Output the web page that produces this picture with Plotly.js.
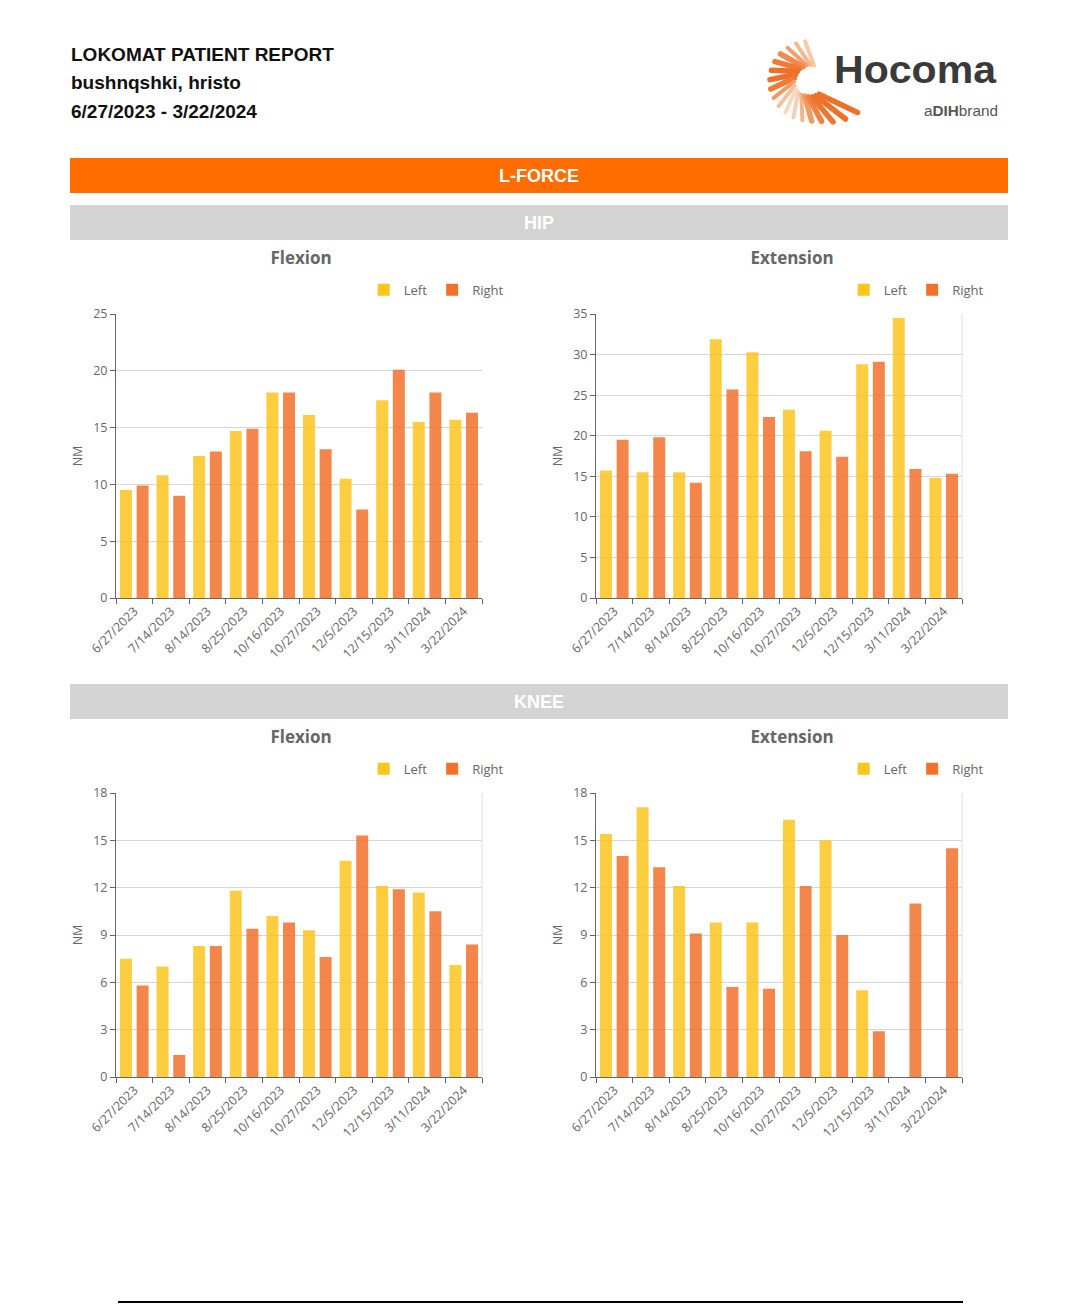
<!DOCTYPE html>
<html><head><meta charset="utf-8">
<script src="https://cdn.plot.ly/plotly-3.0.1.min.js"></script>
<style>
body{margin:0;background:#fff;width:1080px;height:1311px;position:relative;overflow:hidden;font-family:"Liberation Sans",Arial,sans-serif;}
.hdr{position:absolute;left:71px;font-weight:bold;font-size:19px;color:#111;white-space:nowrap;}
.band{position:absolute;left:70px;width:938px;height:35px;line-height:36px;text-align:center;color:#fff;font-weight:bold;font-size:18px;}
.chart{position:absolute;width:460px;height:420px;}
#logo{position:absolute;left:750px;top:35px;}
#foot{position:absolute;left:118px;top:1301px;width:845px;height:2px;background:#000;}
</style></head><body>
<div class="hdr" style="top:44px">LOKOMAT PATIENT REPORT</div>
<div class="hdr" style="top:72px">bushnqshki, hristo</div>
<div class="hdr" style="top:101px">6/27/2023 - 3/22/2024</div>
<svg id="logo" width="260" height="95" viewBox="0 0 260 95">
  <g id="petals"></g>
  <text x="84" y="48" font-family="Liberation Sans, Arial, sans-serif" font-weight="bold" font-size="38" fill="#3a3a3a" textLength="162" lengthAdjust="spacingAndGlyphs">Hocoma</text>
  <text x="174" y="81" font-family="Liberation Sans, Arial, sans-serif" font-size="14" fill="#555" textLength="74" lengthAdjust="spacingAndGlyphs">a<tspan font-weight="bold">DIH</tspan>brand</text>
</svg>
<div class="band" style="top:158px;background:#FF6C00;">L-FORCE</div>
<div class="band" style="top:205px;background:#D4D4D4;">HIP</div>
<div class="band" style="top:684px;background:#D4D4D4;">KNEE</div>
<div id="c1" class="chart" style="left:60px;top:245px"></div>
<div id="c2" class="chart" style="left:540px;top:245px"></div>
<div id="c3" class="chart" style="left:60px;top:724px"></div>
<div id="c4" class="chart" style="left:540px;top:724px"></div>
<div id="foot"></div>
<script>
// ---- data ----
const dates = ["6/27/2023","7/14/2023","8/14/2023","8/25/2023","10/16/2023","10/27/2023","12/5/2023","12/15/2023","3/11/2024","3/22/2024"];
const hipFlexLeft  = [9.5, 10.8, 12.5, 14.7, 18.1, 16.1, 10.5, 17.4, 15.5, 15.7];
const hipFlexRight = [9.9, 9.0, 12.9, 14.9, 18.1, 13.1, 7.8, 20.1, 18.1, 16.3];
const hipExtLeft   = [15.7, 15.5, 15.5, 31.9, 30.3, 23.2, 20.6, 28.8, 34.5, 14.8];
const hipExtRight  = [19.5, 19.8, 14.2, 25.7, 22.3, 18.1, 17.4, 29.1, 15.9, 15.3];
const kneeFlexLeft = [7.5, 7.0, 8.3, 11.8, 10.2, 9.3, 13.7, 12.1, 11.7, 7.1];
const kneeFlexRight= [5.8, 1.4, 8.3, 9.4, 9.8, 7.6, 15.3, 11.9, 10.5, 8.4];
const kneeExtLeft  = [15.4, 17.1, 12.1, 9.8, 9.8, 16.3, 15.0, 5.5, null, null];
const kneeExtRight = [14.0, 13.3, 9.1, 5.7, 5.6, 12.1, 9.0, 2.9, 11.0, 14.5];
const seriesNames = ["Left","Right"];

// ---- logo petals (decoration) ----
(function(){
  const g = document.getElementById('petals');
  const cx=60, cy=46;
  const n = 18;
  const cols=["#f7c9a6","#f5b98c","#f3a06c","#f18a4c","#ef7a36","#ee7029","#ee7029","#ef7a36","#f29a62","#f6c09c","#f9d8c2","#f8cfb4","#f5b48a","#f29a62","#ef8142","#ee7633","#ee7029","#ee7029"];
  for(let i=0;i<n;i++){
    const a = (-75 - i*13.5)*Math.PI/180;
    const tw = -22*Math.PI/180;
    const ri = 16, ro = (i>=14)? 42 + (i-14)*5 : 40;
    const x1 = cx + ri*Math.cos(a), y1 = cy + ri*Math.sin(a);
    const x2 = cx + ro*Math.cos(a+tw), y2 = cy + ro*Math.sin(a+tw);
    const p = document.createElementNS('http://www.w3.org/2000/svg','line');
    p.setAttribute('x1',x1.toFixed(1)); p.setAttribute('y1',y1.toFixed(1));
    p.setAttribute('x2',x2.toFixed(1)); p.setAttribute('y2',y2.toFixed(1));
    p.setAttribute('stroke',cols[i]); p.setAttribute('stroke-width', (i>=3&&i<=7)||(i>=13)? 5.5 : 4);
    p.setAttribute('stroke-linecap','round');
    g.appendChild(p);
  }
})();

// ---- charts ----
const leftColor = "#FDC41E", rightColor = "#F2712B";
const tickFont = {family:"Open Sans, Noto Sans, sans-serif", size:12.5, color:"#666"};

function draw(id, title, titleX, left, right, ymax, dtick, border){
  const traces = [
    {type:'bar', name:seriesNames[0], x:dates, y:left, marker:{color:leftColor, opacity:0.85}},
    {type:'bar', name:seriesNames[1], x:dates, y:right, marker:{color:rightColor, opacity:0.85}}
  ];
  const shapes = border ? [{type:'line', xref:'paper', yref:'paper', x0:1, x1:1, y0:0, y1:1, line:{color:'#dddddd', width:1}}] : [];
  const layout = {
    width:460, height:420,
    margin:{l:56, r:37, t:69, b:67},
    paper_bgcolor:'rgba(0,0,0,0)', plot_bgcolor:'rgba(0,0,0,0)',
    title:{text:title, font:{family:"Open Sans, Noto Sans, sans-serif", size:17, color:'#666', weight:'bold'}, x:titleX, xref:'container', xanchor:'center', y:1-13/420, yref:'container', yanchor:'middle'},
    barmode:'group', bargap:0.09, bargroupgap:0.28,
    showlegend:true,
    legend:{orientation:'h', x:1.07, xanchor:'right', y:1.085, yanchor:'middle', font:{family:"Open Sans, Noto Sans, sans-serif", size:13, color:'#666'}, itemwidth:30, bgcolor:'rgba(0,0,0,0)'},
    xaxis:{type:'category', tickson:'boundaries', ticks:'outside', ticklen:5, tickcolor:'#666', showline:true, linecolor:'#666', linewidth:1, tickangle:-45, tickfont:tickFont, showgrid:false, zeroline:false},
    yaxis:{range:[0,ymax], dtick:dtick, ticks:'outside', ticklen:5, tickcolor:'#666', showline:true, linecolor:'#666', linewidth:1, gridcolor:'#d6d6d6', zeroline:false, tickfont:tickFont,
           title:{text:'NM', font:{family:"Open Sans, Noto Sans, sans-serif", size:12.5, color:'#666'}, standoff:7}},
    shapes:shapes
  };
  Plotly.newPlot(id, traces, layout, {staticPlot:true, displayModeBar:false});
}
draw('c1','Flexion', 0.524, hipFlexLeft, hipFlexRight, 25, 5, false);
draw('c2','Extension', 0.548, hipExtLeft, hipExtRight, 35, 5, true);
draw('c3','Flexion', 0.524, kneeFlexLeft, kneeFlexRight, 18, 3, true);
draw('c4','Extension', 0.548, kneeExtLeft, kneeExtRight, 18, 3, true);
</script>
</body></html>
